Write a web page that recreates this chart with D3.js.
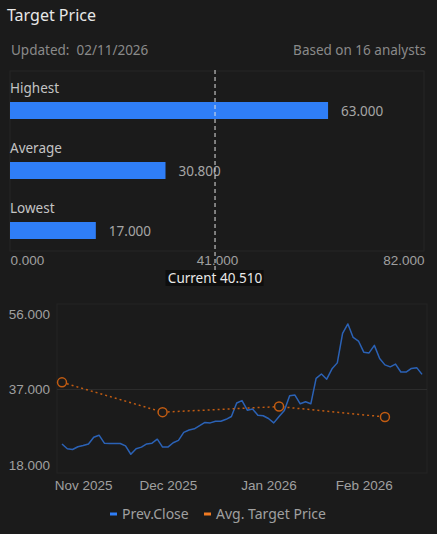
<!DOCTYPE html>
<html>
<head>
<meta charset="utf-8">
<script src="https://cdn.jsdelivr.net/npm/d3@7"></script>
<style>
  html, body { margin: 0; padding: 0; background: #1b1b1b; }
  svg { display: block; font-family: "Noto Sans", "Open Sans", sans-serif; }
</style>
</head>
<body>
<div id="wrapper"></div>
<script>
// target price summary
const categories = ["Highest", "Average", "Lowest"];
const targetValues = [63.0, 30.8, 17.0];
const currentPrice = 40.51;
const barTicks = [0, 41, 82];

// previous close, one value per trading day
const dates = [
  "2025-10-31",
  "2025-11-03","2025-11-04","2025-11-05","2025-11-06","2025-11-07",
  "2025-11-10","2025-11-11","2025-11-12","2025-11-13","2025-11-14",
  "2025-11-17","2025-11-18","2025-11-19","2025-11-20","2025-11-21",
  "2025-11-24","2025-11-25","2025-11-26","2025-11-28",
  "2025-12-01","2025-12-02","2025-12-03","2025-12-04","2025-12-05",
  "2025-12-08","2025-12-09","2025-12-10","2025-12-11","2025-12-12",
  "2025-12-15","2025-12-16","2025-12-17","2025-12-18","2025-12-19",
  "2025-12-22","2025-12-23","2025-12-24","2025-12-26",
  "2025-12-29","2025-12-30","2025-12-31",
  "2026-01-02",
  "2026-01-05","2026-01-06","2026-01-07","2026-01-08","2026-01-09",
  "2026-01-12","2026-01-13","2026-01-14","2026-01-15","2026-01-16",
  "2026-01-20","2026-01-21","2026-01-22","2026-01-23",
  "2026-01-26","2026-01-27","2026-01-28","2026-01-29","2026-01-30",
  "2026-02-02","2026-02-03","2026-02-04","2026-02-05","2026-02-06",
  "2026-02-09","2026-02-10"
];
const prevClose = [
  23.3,
  22.1, 21.9, 22.6, 22.9, 23.3,
  25.0, 25.5, 23.5, 23.4, 23.4,
  23.4, 22.8, 20.7, 22.1, 22.5,
  23.3, 23.5, 24.5, 22.5,
  22.5, 23.6, 24.2, 26.2, 26.8,
  27.1, 27.9, 28.7, 28.6, 29.0,
  29.0, 29.5, 30.2, 33.6, 34.2,
  31.8, 32.1, 30.5, 30.4,
  29.7, 28.6, 30.2,
  31.7,
  35.4, 35.6, 33.4, 33.9, 33.4,
  39.8, 40.9, 39.6, 42.2, 43.7,
  51.1, 53.5, 50.1, 49.2,
  46.4, 46.2, 48.1, 44.8, 43.2,
  42.7, 43.4, 41.4, 41.4, 42.3,
  42.5, 40.8
];

// average analyst target at each month end
const avgDates = ["2025-10-31", "2025-11-28", "2025-12-31", "2026-01-30"];
const avgTarget = [38.8, 31.3, 32.7, 30.1];

const yTicks = [18, 37, 56];
const xTickDates = ["2025-11-06", "2025-12-01", "2025-12-29", "2026-01-26"];
const xTickLabels = ["Nov 2025", "Dec 2025", "Jan 2026", "Feb 2026"];

const width = 437, height = 534;
const svg = d3.select("#wrapper").append("svg")
  .attr("width", width)
  .attr("height", height);

// header
svg.append("text").attr("x", 7).attr("y", 21)
  .attr("fill", "#e8e8e8").attr("font-size", 16).text("Target Price");
svg.append("text").attr("x", 11).attr("y", 55)
  .style("white-space", "pre")
  .attr("fill", "#8a8a8a").attr("font-size", 13.5).text("Updated:  02/11/2026");
svg.append("text").attr("x", 426).attr("y", 55).attr("text-anchor", "end")
  .attr("fill", "#8a8a8a").attr("font-size", 13.5).text("Based on 16 analysts");

// ---- bar chart ----
const barX = d3.scaleLinear().domain([0, 82]).range([10, 424]);
const rowY = d3.scaleBand().domain(categories).range([72, 252]);

svg.append("rect")
  .attr("x", 10).attr("y", 71).attr("width", 414).attr("height", 180)
  .attr("fill", "none").attr("stroke", "#262626");

const rows = svg.append("g").selectAll("g")
  .data(categories)
  .enter().append("g")
  .attr("transform", d => `translate(0,${rowY(d)})`);

rows.append("text")
  .attr("x", 10).attr("y", 21)
  .attr("fill", "#c4c4c4").attr("font-size", 13.5)
  .text(d => d);

rows.append("rect")
  .attr("x", barX(0)).attr("y", 30)
  .attr("width", (d, i) => barX(targetValues[i]) - barX(0))
  .attr("height", 17)
  .attr("fill", "#2f7ef7");

rows.append("text")
  .attr("x", (d, i) => barX(targetValues[i]) + 13).attr("y", 43.5)
  .attr("fill", "#a6a6a6").attr("font-size", 13.5)
  .text((d, i) => targetValues[i].toFixed(3));

const barAxis = svg.append("g").attr("transform", "translate(0,251)")
  .call(d3.axisBottom(barX).tickValues(barTicks).tickSize(0).tickPadding(4)
    .tickFormat(d3.format(".3f")));
barAxis.select(".domain").remove();
barAxis.selectAll("text")
  .attr("fill", "#a0a0a0").attr("font-size", 13.5).attr("font-family", null)
  .attr("text-anchor", (d, i) => i === 0 ? "start" : i === barTicks.length - 1 ? "end" : "middle");

// current price marker
const cx = barX(currentPrice);
svg.append("line")
  .attr("x1", cx + 0.5).attr("x2", cx + 0.5).attr("y1", 70).attr("y2", 270)
  .attr("stroke", "#e0e0e0").attr("stroke-dasharray", "4,3");
const curText = "Current " + currentPrice.toFixed(3);
svg.append("rect")
  .attr("x", cx - 49).attr("y", 270).attr("width", 98).attr("height", 16)
  .attr("fill", "#0e0e0e");
svg.append("text")
  .attr("x", cx + 0.5).attr("y", 283).attr("text-anchor", "middle")
  .attr("fill", "#e8e8e8").attr("font-size", 13.5).text(curText);

// ---- line chart ----
const x = d3.scalePoint().domain(dates).range([62, 422]);
const y = d3.scaleLinear().domain([18, 56]).range([465, 314]);

svg.append("rect")
  .attr("x", 57).attr("y", 304).attr("width", 370).attr("height", 169)
  .attr("fill", "none").attr("stroke", "#242424");

svg.append("line")
  .attr("x1", 57).attr("x2", 427).attr("y1", y(37)).attr("y2", y(37))
  .attr("stroke", "#2c2c2c");

const yAxis = svg.append("g").attr("transform", "translate(50,0)")
  .call(d3.axisLeft(y).tickValues(yTicks).tickSize(0).tickPadding(0)
    .tickFormat(d3.format(".3f")));
yAxis.select(".domain").remove();
yAxis.selectAll("text")
  .attr("fill", "#a0a0a0").attr("font-size", 13.5).attr("font-family", null);

const xAxis = svg.append("g").attr("transform", "translate(0,473)")
  .call(d3.axisBottom(x).tickValues(xTickDates).tickSize(0).tickPadding(7)
    .tickFormat((d, i) => xTickLabels[i]));
xAxis.select(".domain").remove();
xAxis.selectAll("text")
  .attr("fill", "#a0a0a0").attr("font-size", 13.5).attr("font-family", null);

const lineGen = d3.line()
  .x((d, i) => x(dates[i]))
  .y(d => y(d));
svg.append("path")
  .datum(prevClose)
  .attr("d", lineGen)
  .attr("fill", "none")
  .attr("stroke", "#2b62b6")
  .attr("stroke-width", 1.5)
  .attr("stroke-linejoin", "round");

const avgLine = d3.line()
  .x((d, i) => x(avgDates[i]))
  .y(d => y(d));
svg.append("path")
  .datum(avgTarget)
  .attr("d", avgLine)
  .attr("fill", "none")
  .attr("stroke", "#c25c12")
  .attr("stroke-width", 1.5)
  .attr("stroke-dasharray", "2,3");
svg.append("g").selectAll("circle")
  .data(avgTarget)
  .enter().append("circle")
  .attr("cx", (d, i) => x(avgDates[i]))
  .attr("cy", d => y(d))
  .attr("r", 4.5)
  .attr("fill", "#1b1b1b")
  .attr("stroke", "#c25c12")
  .attr("stroke-width", 1.5);

// legend
const legend = [
  { name: "Prev.Close", color: "#2f7ef7", x: 110 },
  { name: "Avg. Target Price", color: "#f07a22", x: 204 }
];
const lg = svg.append("g").selectAll("g")
  .data(legend)
  .enter().append("g")
  .attr("transform", d => `translate(${d.x},514)`);
lg.append("rect").attr("x", 0).attr("y", -1.5).attr("width", 7).attr("height", 3)
  .attr("fill", d => d.color);
lg.append("text").attr("x", 12).attr("y", 5)
  .attr("fill", "#a0a0a0").attr("font-size", 14).text(d => d.name);
</script>
</body>
</html>
